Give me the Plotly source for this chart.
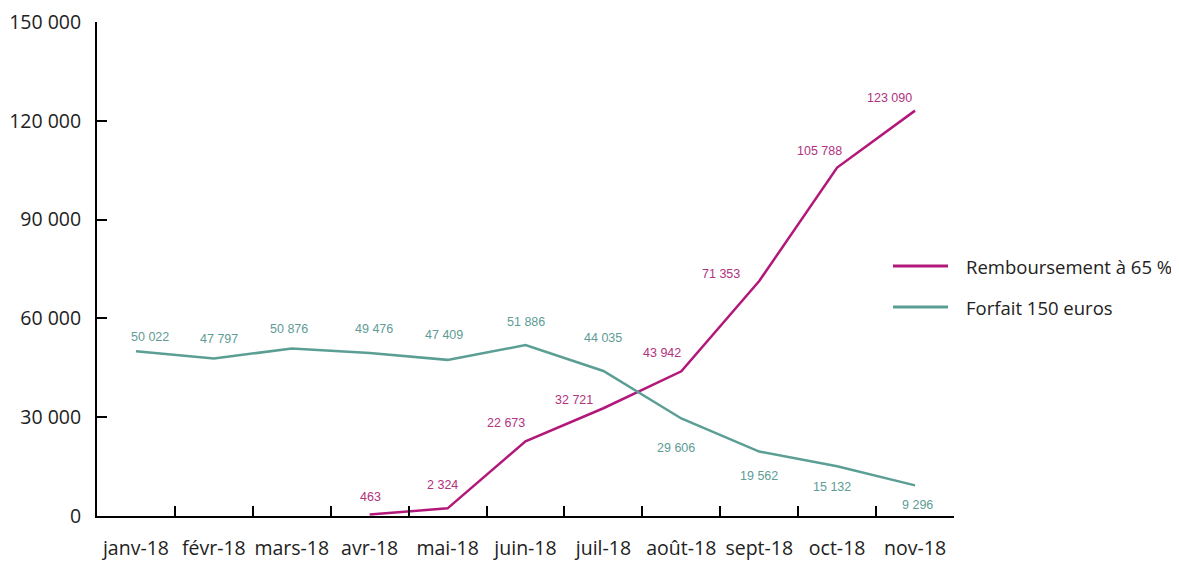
import plotly.graph_objects as go

months = ["janv-18", "févr-18", "mars-18", "avr-18", "mai-18", "juin-18",
          "juil-18", "août-18", "sept-18", "oct-18", "nov-18"]
remboursement = [None, None, None, 463, 2324, 22673, 32721, 43942, 71353, 105788, 123090]
forfait = [50022, 47797, 50876, 49476, 47409, 51886, 44035, 29606, 19562, 15132, 9296]
series_names = ["Remboursement à 65 %", "Forfait 150 euros"]
y_ticks = [0, 30000, 60000, 90000, 120000, 150000]

MAGENTA = "#B2187A"
TEAL = "#5A9E94"
MAG_TXT = "#B2327E"
TEAL_TXT = "#5E9C95"

# label offsets in pixels (placement only)
rem_dx = [0, 0, 0, 1, -5, -20, -29, -19, -38, -18, -26]
rem_dy = [0, 0, 0, 17, 23, 18, 8, 18, 7, 17, 13]
for_dx = [14, 5, -3, 4, -4, 0, 0, -5, 0, -5, 2]
for_dy = [14, 20, 19, 24, 25, 23, 33, -29, -24, -21, -20]


def fmt(v):
    return f"{v:,}".replace(",", " ")


fig = go.Figure()
fig.add_trace(go.Scatter(x=months, y=remboursement, mode="lines",
                         name=series_names[0], showlegend=False,
                         line=dict(color=MAGENTA, width=2.5)))
fig.add_trace(go.Scatter(x=months, y=forfait, mode="lines",
                         name=series_names[1], showlegend=False,
                         line=dict(color=TEAL, width=2.5)))

LBL_FONT = "Liberation Sans, Arial, sans-serif"
annotations = []
for i, m in enumerate(months):
    v = remboursement[i]
    if v is not None:
        annotations.append(dict(x=m, y=v, xref="x", yref="y", text=fmt(v),
                                showarrow=False, xshift=rem_dx[i], yshift=rem_dy[i],
                                font=dict(family=LBL_FONT, size=12.5, color=MAG_TXT)))
    v = forfait[i]
    annotations.append(dict(x=m, y=v, xref="x", yref="y", text=fmt(v),
                            showarrow=False, xshift=for_dx[i], yshift=for_dy[i],
                            font=dict(family=LBL_FONT, size=12.5, color=TEAL_TXT)))

# page body has an 8px margin; plot area on screen is x 97..954, y 22..516
OFF = 8
LEFT_S, RIGHT_S, TOP_S, BOT_S = 97, 954, 22, 516
L, T = LEFT_S - OFF, TOP_S - OFF
W, H = RIGHT_S - LEFT_S, BOT_S - TOP_S
FIG_W, FIG_H = 1171, 554


def px(xp):
    return (xp - LEFT_S) / W


def py(yp):
    return (BOT_S - yp) / H


shapes = []
for name, col, ly in [(series_names[0], MAGENTA, 266), (series_names[1], TEAL, 307)]:
    shapes.append(dict(type="line", xref="paper", yref="paper",
                       x0=px(893), x1=px(948), y0=py(ly), y1=py(ly),
                       line=dict(color=col, width=3)))
    annotations.append(dict(x=px(964), y=py(ly), xref="paper", yref="paper",
                            text=name, showarrow=False, xanchor="left", yanchor="middle",
                            font=dict(family="Open Sans, Noto Sans, sans-serif", size=18.5, color="#222")))

fig.update_layout(
    width=FIG_W, height=FIG_H,
    margin=dict(l=L, r=FIG_W - L - W, t=T, b=FIG_H - T - H, pad=0),
    paper_bgcolor="white", plot_bgcolor="white",
    separators=", ",
    font=dict(family="Open Sans, Noto Sans, sans-serif", size=19.5, color="#222"),
    annotations=annotations,
    shapes=shapes,
    showlegend=False,
)
fig.update_xaxes(type="category", range=[-0.5, 10.5], tickson="boundaries",
                 showline=True, linecolor="black", linewidth=2,
                 ticks="inside", ticklen=10, tickwidth=2, tickcolor="black",
                 showgrid=False, zeroline=False, ticklabelstandoff=14,
                 tickangle=0, automargin=False,
                 tickfont=dict(size=19.5))
fig.update_yaxes(range=[0, 150000], tickvals=y_ticks, tickformat=",d",
                 showline=True, linecolor="black", linewidth=2,
                 ticks="inside", ticklen=10, tickwidth=2, tickcolor="black",
                 showgrid=False, zeroline=False, ticklabelstandoff=10,
                 ticklabeloverflow="allow",
                 automargin=False,
                 tickfont=dict(size=19.5))

fig.write_html("out.html")
